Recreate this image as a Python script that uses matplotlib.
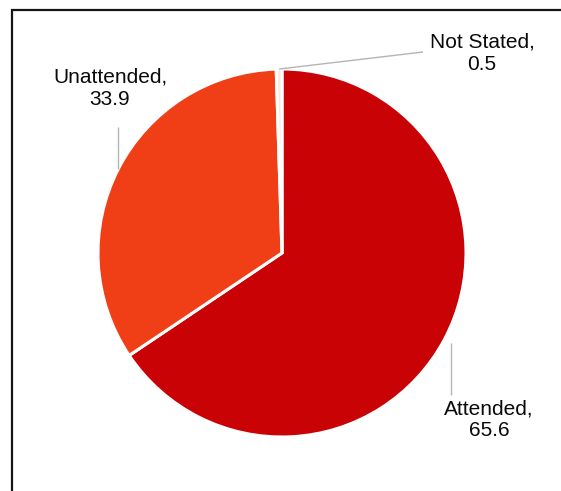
import numpy as np
import matplotlib
matplotlib.use("Agg")
import matplotlib.pyplot as plt
from matplotlib.patches import Rectangle

# ── data ───────────────────────────────────────────────────────────────────
categories = ["Attended", "Unattended", "Not Stated"]
shares = [65.6, 33.9, 0.5]
colors = ["#c90205", "#f03f17", "#fbe8e2"]
# ───────────────────────────────────────────────────────────────────────────

W, H = 561, 491
plt.rcParams["font.family"] = ["Liberation Sans", "DejaVu Sans"]

fig = plt.figure(figsize=(W / 100, H / 100), dpi=100)
ax = fig.add_axes([0, 0, 1, 1])

cx, cy, r = 282, H - 253, 184
wedges, _ = ax.pie(shares, colors=colors, startangle=90, counterclock=False,
                   center=(cx, cy), radius=r, frame=True,
                   wedgeprops=dict(edgecolor="white", linewidth=2.2))
ax.set_xlim(0, W)
ax.set_ylim(0, H)
ax.axis("off")

# label text position and where each leader line stops (pixel coords, y down)
label_pos = {"Attended": (489, 420), "Unattended": (110, 88), "Not Stated": (482, 53)}
leader_end = {"Attended": (None, 395), "Unattended": (None, 127), "Not Stated": (423, 52)}
leader_r = {"Attended": 1.04, "Unattended": 1.0, "Not Stated": 1.0}

for w, name, val in zip(wedges, categories, shares):
    mid = np.deg2rad((w.theta1 + w.theta2) / 2)
    ax_x = cx + r * leader_r[name] * np.cos(mid)
    ax_y = cy + r * leader_r[name] * np.sin(mid)
    ex, ey = leader_end[name]
    ex = ax_x if ex is None else ex
    ax.plot([ax_x, ex], [ax_y, H - ey], color="#b4b4b4", lw=1.0,
            solid_capstyle="butt")
    tx, ty = label_pos[name]
    ax.text(tx, H - ty, f"{name},\n{val}", ha="center", va="center",
            fontsize=15, color="#0a0a0a", linespacing=1.2)

# chart border (only top and left edges fall inside the image)
ax.add_patch(Rectangle((12, -20), 600, H - 10 + 20, fill=False,
                       edgecolor="#151515", linewidth=1.6, clip_on=False))

fig.savefig("out.png", dpi=100, facecolor="white")
